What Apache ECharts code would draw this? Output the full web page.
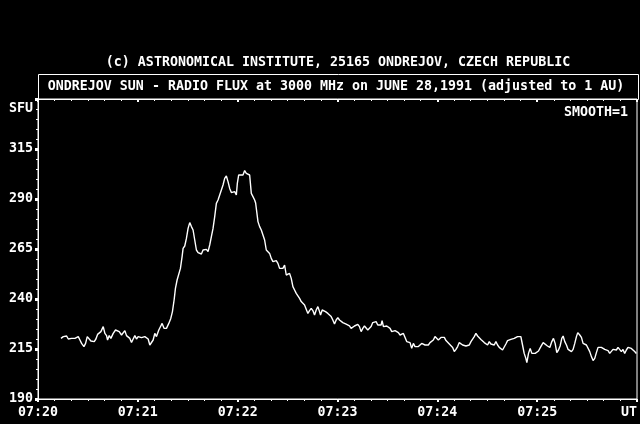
<!DOCTYPE html>
<html>
<head>
<meta charset="utf-8">
<script src="https://cdn.jsdelivr.net/npm/echarts@6/dist/echarts.min.js"></script>
<style>
html,body{margin:0;padding:0;background:#000;}
#c{width:640px;height:424px;}
</style>
</head>
<body>
<div id="c"></div>
<script>
// seconds after 07:20:00 UT
const seconds = [13.8,15.2,16.2,17.2,18.2,19.2,20.2,21.2,22.2,23.2,24.2,25.2,26.2,27.6,28.6,29.6,30.8,31.8,32.8,33.8,34.8,35.8,36.8,37.8,39.2,40.2,41.2,41.8,42.8,43.8,45.2,46.6,47.8,48.8,50.2,51.2,52.2,53.2,54.2,55.2,56.2,57.2,58.2,59.2,60.2,61.2,62.2,63.2,64.2,65.2,66.2,67.2,68.2,69.2,70.2,71.2,72.6,73.8,74.6,75.8,77.2,78.6,79.8,80.8,81.8,82.6,83.6,84.6,85.6,86.6,87.2,88.2,89.2,90.2,91.2,92.2,93.2,94.2,95.2,96.2,97.2,98.2,99.2,100.2,101.2,102.2,103.2,104.2,105.2,106.2,107.2,108.2,109.2,110.2,111.2,112.2,113.2,114.2,115.2,116.2,117.2,118.2,119.2,119.8,120.6,121.8,123.2,124.2,125.2,126.2,127.2,128.2,129.2,130.2,130.8,132.2,133.2,134.2,135.2,136.2,137.2,138.2,139.2,140.2,141.2,142.2,143.2,144.2,145.2,146.2,147.2,148.2,149.2,150.2,151.2,152.2,153.2,154.2,155.2,156.2,157.2,158.2,159.2,160.2,161.2,162.2,163.2,164.2,165.2,166.2,167.2,168.2,169.2,169.8,170.8,171.8,172.8,174.2,175.2,176.2,177.2,178.2,179.2,180.2,181.2,182.2,183.2,184.2,185.2,186.2,187.2,188.2,189.2,190.2,191.2,192.2,193.2,194.2,195.2,196.2,197.2,198.2,199.2,200.2,201.2,202.2,203.2,204.2,205.2,206.2,206.8,207.6,208.6,209.6,210.6,211.6,212.6,213.6,214.6,215.6,216.6,217.6,218.6,219.6,220.6,221.6,222.6,223.6,224.6,225.6,226.6,227.6,228.6,229.6,230.6,231.6,232.6,233.6,234.6,235.6,236.6,237.6,238.6,239.6,240.6,241.2,242.2,243.2,244.2,245.2,246.2,247.2,248.2,249.2,250.2,251.2,252.2,253.2,254.2,255.2,256.2,257.2,258.2,259.2,260.2,261.2,262.2,263.2,264.2,265.2,266.2,267.2,268.2,269.2,270.2,271.2,272.2,273.2,274.2,275.2,276.2,277.2,278.2,279.2,280.2,281.2,282.2,283.2,284.2,285.2,286.2,287.2,288.2,289.2,290.2,291.2,292.2,293.2,293.8,294.8,295.8,296.8,297.8,298.8,299.8,300.8,302.2,303.6,304.8,306.2,307.6,308.8,309.8,310.8,311.8,312.8,313.8,314.8,315.6,316.6,317.6,318.6,319.6,320.6,321.6,322.6,323.6,324.4,325.6,326.6,327.6,328.6,329.6,330.6,331.6,332.6,333.6,334.6,335.6,336.6,337.6,338.6,339.6,340.6,341.6,342.6,343.6,344.6,345.6,346.6,347.6,348.6,349.6,350.6,351.6,352.6,353.6,354.6,355.6,356.6,357.6,358.6,359.6];
// radio flux, SFU
const flux = [220.3,221.2,220.7,221.5,220,220.8,220.3,219.8,220.3,219.8,221.2,219.5,217.8,216.2,217.8,221.2,221.7,219,219.8,218.7,220,222.3,221.7,223.7,226.2,222.8,221.7,219.5,221.7,220.3,222.8,224.5,224.2,223.7,222,221.2,224.2,221.7,221.2,220.3,218.3,220,221.7,220,221.2,220.3,220.7,220,221.2,222,220,217,216.5,219.5,222.8,221.2,224.5,226.5,227.8,225.3,225.3,227.8,230.3,233.7,239.5,245.3,249.5,250.3,255.3,261.2,265.3,266.5,270.3,275.3,278.2,276.2,274.5,269.5,264.5,263.2,263.7,262.5,264.5,264.2,264.8,263.7,267,271.2,275.3,281.2,287.8,289.5,292,294.5,297,300.3,301.5,298.7,295.3,293.2,294.2,293.7,292,297.8,302,301.5,302,304.2,302.8,303.2,302,292.8,291.2,289.5,288,278.7,276.2,274.5,272,269.5,264.5,263.7,262.8,260.3,258.7,257.8,259.2,257.8,255.3,254.8,255.3,257,252,251.2,252.8,250.3,246.2,244.5,242.8,242,240.3,238.7,237.8,237,237.5,232.8,234.2,235.3,234.2,232,234.5,236.2,233.7,232,234.5,235.3,233.7,232.8,232,231.2,229.5,227.5,229.5,230.7,229.5,229.6,228.2,228.8,227.4,228.1,226.6,225.3,226.2,226.5,227,227.3,226.2,223.7,225.3,226.5,227,224.5,224.2,226.2,228.2,227.5,228.7,227,227.8,227,229.2,226.2,225.3,226.5,227,225.3,223.7,224.5,224.2,224.5,223.2,222,221.5,222.8,222,218.7,217.8,218.2,215.3,217.8,216.2,216.5,216.2,217,217.8,218.7,217,217.8,217,218.2,218.7,219.5,221.2,220.7,219.5,219.8,220.8,220.3,220.8,219.2,218.2,217.5,216.5,215.8,213.7,214.8,216.2,218.2,217.5,217,217.8,216.5,217.5,217,218.7,219.5,221.2,222.8,221.5,220.8,219.8,219.2,218.2,219.2,217,218.7,217.5,218.2,217,218.7,217,215.8,214.8,214.5,215.3,217.5,219.2,218.7,219.8,219.2,220.3,219.5,221.2,222,221.2,217,212.8,210.3,208.2,212.8,215.3,212.8,212,212.8,213.7,214,216.2,218.2,217.5,216.5,215.8,218.7,220.3,217.8,213.2,214.5,216.5,220.3,221.5,218.7,217,214.8,214.2,213.7,214.8,217.8,221.2,223.2,222,220.8,217.8,218.2,217,216.2,213.7,211.2,209.2,210.3,213.2,215.8,216.5,215.8,216.2,214.8,215.8,214.2,212.8,213.7,214.8,215.3,214.5,215.8,214.8,213.7,214.8,212.8,214.5,215.8,214.8,215.3,214.5,213.7,212.8];

const xTickSeconds = [0,60,120,180,240,300,360];
const xTickLabels = ['07:20','07:21','07:22','07:23','07:24','07:25',''];
const yTicks = [190,215,240,265,290,315];

const titleTop = '(c) ASTRONOMICAL INSTITUTE, 25165 ONDREJOV, CZECH REPUBLIC';
const titleBox = 'ONDREJOV SUN - RADIO FLUX at 3000 MHz on JUNE 28,1991 (adjusted to 1 AU)';
const yUnit = 'SFU';
const smoothTxt = 'SMOOTH=1';
const xUnit = 'UT';

const FONT = 'DejaVu Sans Mono';
const FS = 13.3;
const FSTR = 'bold ' + FS + 'px "' + FONT + '"';
const txt = {color:'#fff', fontFamily:FONT, fontSize:FS, fontWeight:'bold'};

const chart = echarts.init(document.getElementById('c'), null, {renderer:'canvas'});
chart.setOption({
  backgroundColor:'#000',
  animation:false,
  grid:{left:38, right:2, top:99, bottom:25, show:true, borderColor:'#fff', borderWidth:1, backgroundColor:'transparent'},
  xAxis:[{
    type:'value', min:0, max:360, interval:60, position:'bottom',
    axisLine:{show:true, lineStyle:{color:'#fff', width:1}},
    axisTick:{show:true, inside:false, length:3, lineStyle:{color:'#fff', width:2}},
    minorTick:{show:true, splitNumber:6, length:2, lineStyle:{color:'#fff', width:1}},
    splitLine:{show:false},
    axisLabel:Object.assign({margin:7, formatter:function(v){const i=xTickSeconds.indexOf(v);return i>=0?xTickLabels[i]:'';}}, txt)
  },{
    type:'value', min:0, max:360, interval:60, position:'top',
    axisLine:{show:true, lineStyle:{color:'#fff', width:1}},
    axisTick:{show:true, inside:true, length:3, lineStyle:{color:'#fff', width:2}},
    minorTick:{show:true, splitNumber:6, length:2, lineStyle:{color:'#fff', width:1}},
    splitLine:{show:false}, axisLabel:{show:false}
  }],
  yAxis:{
    type:'value', min:190, max:340, interval:25,
    axisLine:{show:true, lineStyle:{color:'#fff', width:1}},
    axisTick:{show:true, inside:false, length:3, lineStyle:{color:'#fff', width:3}},
    minorTick:{show:true, splitNumber:5, length:2, lineStyle:{color:'#fff', width:1}},
    splitLine:{show:false},
    axisLabel:Object.assign({margin:5, formatter:function(v){return yTicks.indexOf(v)>=0?String(v):'';}}, txt)
  },
  graphic:[
    {type:'text', x:338, y:63, style:{text:titleTop, fill:'#fff', font:FSTR, align:'center', verticalAlign:'middle'}},
    {type:'rect', shape:{x:38.5, y:74.5, width:600, height:25}, style:{fill:'transparent', stroke:'#fff', lineWidth:1}},
    {type:'text', x:336, y:87, style:{text:titleBox, fill:'#fff', font:FSTR, align:'center', verticalAlign:'middle'}},
    {type:'text', x:33, y:109, style:{text:yUnit, fill:'#fff', font:FSTR, align:'right', verticalAlign:'middle'}},
    {type:'text', x:628, y:113, style:{text:smoothTxt, fill:'#fff', font:FSTR, align:'right', verticalAlign:'middle'}},
    {type:'text', x:637, y:413, style:{text:xUnit, fill:'#fff', font:FSTR, align:'right', verticalAlign:'middle'}}
  ],
  series:[{
    type:'line', xAxisIndex:0,
    data:seconds.map(function(s,i){return [s, flux[i]];}),
    showSymbol:false, symbol:'none', smooth:false,
    lineStyle:{color:'#fff', width:1.4}
  }]
});
</script>
</body>
</html>
